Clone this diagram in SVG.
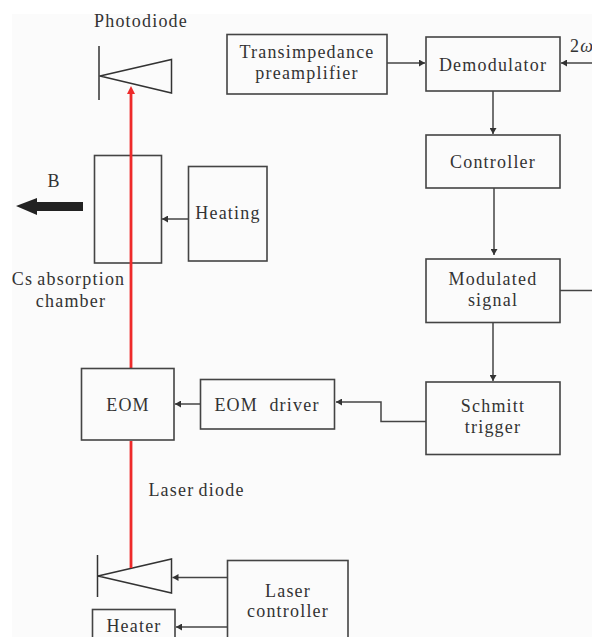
<svg xmlns="http://www.w3.org/2000/svg" width="592" height="637" viewBox="0 0 592 637">
<style>
.b{fill:none;stroke:#444;stroke-width:1.6}
.c{fill:none;stroke:#444;stroke-width:1.5}
.d{fill:none;stroke:#333;stroke-width:1.5}
text{font-family:"Liberation Serif","Times New Roman",serif;font-size:18px;fill:#333;letter-spacing:1.2px;text-anchor:middle;word-spacing:-1.5px}
</style>
<defs>
<marker id="a" markerUnits="userSpaceOnUse" markerWidth="7" markerHeight="7" refX="6" refY="3.500" orient="auto"><path d="M0,0L6,3.500L0,7Z" fill="#333"/></marker>
</defs>
<rect width="592" height="637" fill="#fff"/>
<rect x="12" y="14" width="580" height="623" fill="#fbfbfb"/>
<g id="connectors">
<path class="c" d="M387,63H425" marker-end="url(#a)"/>
<path class="c" d="M592,63H561" marker-end="url(#a)"/>
<path class="c" d="M493,91V134" marker-end="url(#a)"/>
<path class="c" d="M494,188V255" marker-end="url(#a)"/>
<path class="c" d="M560,290.500H592"/>
<path class="c" d="M493,323V381" marker-end="url(#a)"/>
<path class="c" d="M426,421.500H381V402H336" marker-end="url(#a)"/>
<path class="c" d="M200,404H175" marker-end="url(#a)"/>
<path class="c" d="M188,219H162" marker-end="url(#a)"/>
<path class="c" d="M227,577.500H172.500" marker-end="url(#a)"/>
<path class="c" d="M227,627H176" marker-end="url(#a)"/>
</g>
<g id="photodiode">
<text x="141" y="27">Photodiode</text>
<path class="d" d="M99,46V100M100,76L171.500,59.500V93Z"/>
</g>
<g id="laser-diode">
<text x="196.500" y="496">Laser diode</text>
<path class="d" d="M97.500,555V597M98,576L171.500,559V593Z"/>
</g>
<g id="chamber">
<rect class="b" x="94.500" y="155.500" width="67" height="107.500"/>
<text x="68.500" y="285">Cs absorption</text>
<text x="71" y="307">chamber</text>
</g>
<g id="heating">
<rect class="b" x="188.500" y="166.500" width="78.500" height="94.500"/>
<text x="228" y="219">Heating</text>
</g>
<g id="field">
<text x="54" y="187">B</text>
<path d="M16,206L37,198V202H83V211H37V215Z" fill="#222"/>
</g>
<g id="transimpedance">
<rect class="b" x="227" y="34.500" width="160" height="59.500"/>
<text x="307" y="58">Transimpedance</text>
<text x="307" y="79">preamplifier</text>
</g>
<g id="demodulator">
<rect class="b" x="426" y="37" width="134" height="54"/>
<text x="493" y="71">Demodulator</text>
</g>
<g id="omega">
<text x="570" y="52" style="text-anchor:start">2<tspan font-style="italic">ω</tspan></text>
</g>
<g id="controller">
<rect class="b" x="426" y="135" width="134" height="53"/>
<text x="493" y="168">Controller</text>
</g>
<g id="modulated">
<rect class="b" x="426" y="259" width="134" height="63.500"/>
<text x="493" y="285">Modulated</text>
<text x="493" y="306">signal</text>
</g>
<g id="schmitt">
<rect class="b" x="426" y="382" width="134" height="72.500"/>
<text x="493" y="412">Schmitt</text>
<text x="493" y="433">trigger</text>
</g>
<g id="eom-driver">
<rect class="b" x="200.500" y="379.500" width="134" height="49.500"/>
<text x="267" y="410.500" xml:space="preserve" style="word-spacing:0">EOM  driver</text>
</g>
<g id="laser-controller">
<rect class="b" x="227.500" y="560.500" width="120.500" height="80"/>
<text x="288" y="597">Laser</text>
<text x="288" y="617">controller</text>
</g>
<g id="heater">
<rect class="b" x="92.500" y="609.500" width="82.500" height="32"/>
<text x="134" y="632">Heater</text>
</g>
<g id="eom">
<path d="M131,92V368M131,441V568" fill="none" stroke="#ee2a2a" stroke-width="2.800"/>
<path d="M131,86L135,94H127Z" fill="#ee2a2a"/>
<rect class="b" x="81.500" y="368.500" width="92.500" height="71.500"/>
<text x="128" y="411">EOM</text>
</g>
</svg>
